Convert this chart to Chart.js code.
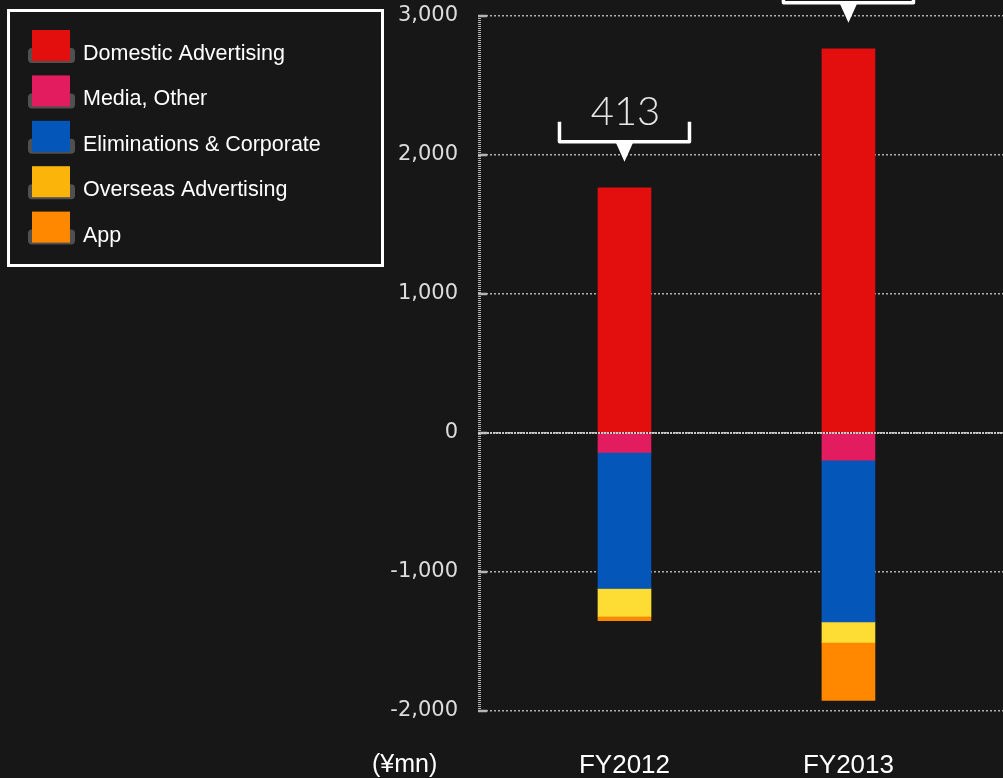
<!DOCTYPE html>
<html lang="en">
<head>
<meta charset="UTF-8">
<title>segment profit</title>
<style>
    html, body { margin: 0; padding: 0; background: #171717; }
    #wrap { width: 1003px; height: 778px; position: relative; }
</style>
</head>
<body>
<div id="wrap"><canvas id="bar_chart"></canvas></div>

<script src="https://cdn.jsdelivr.net/npm/chart.js"></script>
<script>
    // data (¥mn)
    var years = ['FY2012', 'FY2013'];
    var domestic = [1764, 2764];
    var media = [-139, -196];
    var elim = [-980, -1164];
    var overseas = [-201, -146];
    var app = [-31, -417];
    var yMin = -2000, yMax = 3000, yStep = 1000;
    var unitLabel = '(¥mn)';

    var segments = [
        { label: 'Domestic Advertising', values: domestic, color: '#e30f0f', key: '#e30f0f' },
        { label: 'Media, Other', values: media, color: '#e31b5f', key: '#e31b5f' },
        { label: 'Eliminations & Corporate', values: elim, color: '#0456b8', key: '#0456b8' },
        { label: 'Overseas Advertising', values: overseas, color: '#fddd33', key: '#fbb50a' },
        { label: 'App', values: app, color: '#ff8800', key: '#ff8800' }
    ];

    var datasets = segments.map(function (s) {
        return {
            label: s.label,
            data: s.values.map(function (v, i) { return { x: i, y: v }; }),
            backgroundColor: s.color,
            borderWidth: 0,
            barThickness: 53
        };
    });

    function roundRect(ctx, x, y, w, h, r) {
        ctx.beginPath();
        ctx.moveTo(x + r, y);
        ctx.arcTo(x + w, y, x + w, y + h, r);
        ctx.arcTo(x + w, y + h, x, y + h, r);
        ctx.arcTo(x, y + h, x, y, r);
        ctx.arcTo(x, y, x + w, y, r);
        ctx.closePath();
    }

    var decor = {
        id: 'decor',
        beforeDraw: function (chart) {
            var ctx = chart.ctx;
            ctx.save();
            ctx.fillStyle = '#171717';
            ctx.fillRect(0, 0, chart.width, chart.height);
            ctx.restore();
        },
        beforeDatasetsDraw: function (chart) {
            // dotted axis line with little ticks
            var ctx = chart.ctx, a = chart.chartArea, ys = chart.scales.y;
            ctx.save();
            ctx.strokeStyle = '#b4b4b4';
            ctx.lineWidth = 3;
            ctx.setLineDash([1, 1]);
            ctx.beginPath();
            ctx.moveTo(a.left + 1.5, a.top);
            ctx.lineTo(a.left + 1.5, a.bottom);
            ctx.stroke();
            ctx.setLineDash([]);
            ctx.lineWidth = 2.5;
            for (var v = yMin; v <= yMax; v += yStep) {
                var py = ys.getPixelForValue(v);
                ctx.beginPath();
                ctx.moveTo(a.left, py);
                ctx.lineTo(a.left + 9, py);
                ctx.stroke();
            }
            ctx.restore();
        },
        afterDatasetsDraw: function (chart) {
            var ctx = chart.ctx, a = chart.chartArea, ys = chart.scales.y, xs = chart.scales.x;
            ctx.save();
            // zero line runs over the bars
            var zy = ys.getPixelForValue(0);
            ctx.strokeStyle = '#c8c8c8';
            ctx.lineWidth = 2;
            ctx.setLineDash([2, 1]);
            ctx.beginPath();
            ctx.moveTo(a.left, zy);
            ctx.lineTo(a.right, zy);
            ctx.stroke();
            ctx.setLineDash([]);

            // total brackets above each bar
            years.forEach(function (y, i) {
                var total = 0;
                segments.forEach(function (s) { total += s.values[i]; });
                var cx = xs.getPixelForValue(i);
                var tip = ys.getPixelForValue(domestic[i]) - 26;
                var lineY = tip - 20, armTop = lineY - 20, half = 65;
                ctx.strokeStyle = '#ffffff';
                ctx.lineWidth = 3.5;
                ctx.lineJoin = 'round';
                ctx.beginPath();
                ctx.moveTo(cx - half, armTop);
                ctx.lineTo(cx - half, lineY);
                ctx.lineTo(cx + half, lineY);
                ctx.lineTo(cx + half, armTop);
                ctx.stroke();
                ctx.fillStyle = '#ffffff';
                ctx.beginPath();
                ctx.moveTo(cx - 9, lineY);
                ctx.lineTo(cx + 9, lineY);
                ctx.lineTo(cx, tip);
                ctx.closePath();
                ctx.fill();
                ctx.fillStyle = '#e6e6e6';
                ctx.font = '300 40px Lato, "Open Sans", sans-serif';
                ctx.textAlign = 'center';
                ctx.textBaseline = 'alphabetic';
                ctx.fillText(String(total), cx + 1, armTop + 3);
            });
            ctx.restore();
        },
        afterDraw: function (chart) {
            var ctx = chart.ctx;
            ctx.save();
            // legend box
            ctx.strokeStyle = '#ffffff';
            ctx.lineWidth = 3;
            ctx.strokeRect(8.5, 10.5, 374, 255);
            segments.forEach(function (s, i) {
                var top = 30 + i * 45.4;
                ctx.fillStyle = '#505050';
                roundRect(ctx, 28, top + 18, 47, 15, 4);
                ctx.fill();
                ctx.fillStyle = s.key;
                ctx.fillRect(32, top, 38, 31);
                ctx.fillStyle = '#ffffff';
                ctx.font = '21.5px "Liberation Sans", Arial, sans-serif';
                ctx.textAlign = 'left';
                ctx.textBaseline = 'alphabetic';
                ctx.fillText(s.label, 83, top + 30);
            });
            // unit label
            ctx.font = '25px "Liberation Sans", Arial, sans-serif';
            ctx.fillStyle = '#ffffff';
            ctx.fillText(unitLabel, 372, 772);
            ctx.restore();
        }
    };

    new Chart(document.getElementById('bar_chart'), {
        type: 'bar',
        data: { datasets: datasets },
        plugins: [decor],
        options: {
            responsive: true,
            maintainAspectRatio: false,
            animation: false,
            layout: { padding: { top: 16, left: 0, right: 0, bottom: 0 } },
            plugins: {
                legend: { display: false },
                tooltip: { enabled: false }
            },
            scales: {
                x: {
                    type: 'linear',
                    stacked: true,
                    offset: false,
                    min: -0.654,
                    max: 1.69,
                    afterBuildTicks: function (s) {
                        s.ticks = years.map(function (y, i) { return { value: i }; });
                    },
                    afterFit: function (s) {
                        s.height = 67;
                        s.paddingLeft = 0;
                        s.paddingRight = 0;
                        s.paddingTop = 0;
                        s.paddingBottom = 0;
                    },
                    ticks: {
                        padding: 31,
                        color: '#ffffff',
                        font: { family: '"Liberation Sans", Arial, sans-serif', size: 26 },
                        callback: function (v) { return years[v]; }
                    },
                    grid: { display: false, offset: false },
                    border: { display: false }
                },
                y: {
                    stacked: true,
                    min: yMin,
                    max: yMax,
                    afterFit: function (s) {
                        s.width = 478;
                        s.paddingTop = 0;
                        s.paddingBottom = 0;
                        s.paddingLeft = 0;
                        s.paddingRight = 0;
                    },
                    ticks: {
                        stepSize: yStep,
                        padding: 20,
                        color: '#dcdcdc',
                        font: { family: '"DejaVu Sans", sans-serif', size: 21 },
                        callback: function (v) { return v.toLocaleString('en-US'); }
                    },
                    grid: {
                        color: '#b0b0b0',
                        lineWidth: 1.5,
                        drawTicks: false
                    },
                    border: { display: false, dash: [2, 2] }
                }
            }
        }
    });
</script>
</body>
</html>
